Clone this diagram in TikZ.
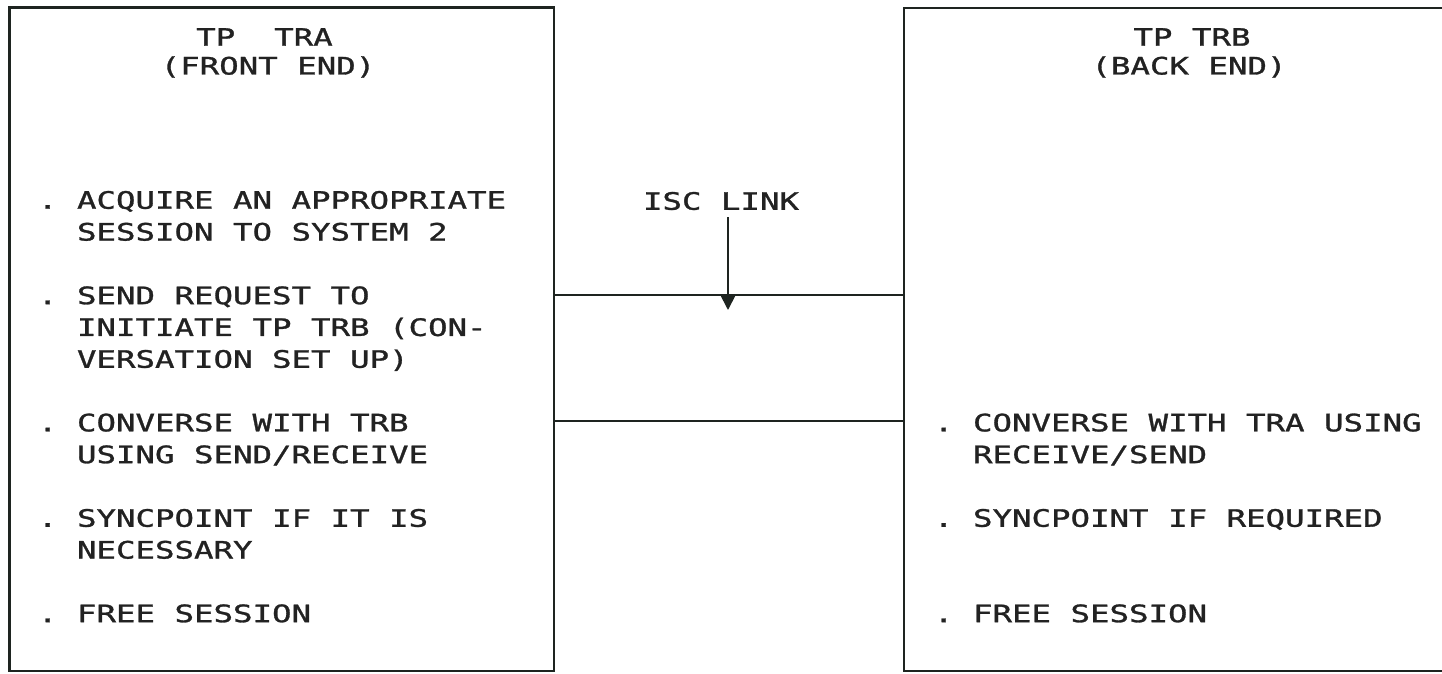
\documentclass[tikz,border=0pt]{standalone}
\usepackage{fontspec}
\usetikzlibrary{arrows.meta}
% line-printer style lettering: a wide monospaced sans of medium weight
\newfontfamily\printfont[FakeStretch=1.35, FakeBold=1.2]{DejaVu Sans Mono}
\definecolor{ink}{HTML}{1E2420}
\definecolor{inktext}{HTML}{222222}

\begin{document}
\begin{tikzpicture}[x=0.5pt,y=-0.5pt,
  frame/.style={draw=ink, line width=1.1pt, inner sep=0pt, outer sep=0pt, anchor=north west},
  txt/.style={text=inktext, font=\printfont\fontsize{12}{14}\selectfont\frenchspacing,
              inner sep=0pt, outer sep=0pt, anchor=base west},
  head/.style={txt, anchor=base},
  link/.style={draw=ink, line width=1.1pt},
  pointer/.style={draw=ink, line width=0.9pt, -{Triangle[width=7.5pt,length=7.5pt]}}]

\clip (0,0) rectangle (1442,674);
\fill[white] (0,0) rectangle (1442,674);

% the two transaction programs
\node[frame, minimum width=272.25pt, minimum height=331.75pt] (tra) at (9.5,7.5) {};
\node[frame, minimum width=273pt, minimum height=331.5pt] (trb) at (904,8) {};

% headings
\node[head] (traname) at (264.5,45.75) {TP\ \ TRA};
\node[head] (trarole) at (268,74.5) {(FRONT END)};
\node[head] (trbname) at (1192,45.75) {TP TRB};
\node[head] (trbrole) at (1189,74.5) {(BACK END)};

% front-end steps
\node[txt] (a1) at (38,208.75) {. ACQUIRE AN APPROPRIATE};
\node[txt] (a1b) at (38,240.55) {\phantom{.}\ SESSION TO SYSTEM 2};
\node[txt] (a2) at (38,304.15) {. SEND REQUEST TO};
\node[txt] (a2b) at (38,335.95) {\phantom{.}\ INITIATE TP TRB (CON-};
\node[txt] (a2c) at (38,367.75) {\phantom{.}\ VERSATION SET UP)};
\node[txt] (a3) at (38,431.35) {. CONVERSE WITH TRB};
\node[txt] (a3b) at (38,463.15) {\phantom{.}\ USING SEND/RECEIVE};
\node[txt] (a4) at (38,526.75) {. SYNCPOINT IF IT IS};
\node[txt] (a4b) at (38,558.55) {\phantom{.}\ NECESSARY};
\node[txt] (a5) at (38,622.15) {. FREE SESSION};

% back-end steps
\node[txt] (b1) at (934,431.35) {. CONVERSE WITH TRA USING};
\node[txt] (b1b) at (934,463.15) {\phantom{.}\ RECEIVE/SEND};
\node[txt] (b2) at (934,526.75) {. SYNCPOINT IF REQUIRED};
\node[txt] (b3) at (934,622.15) {. FREE SESSION};

% the ISC link between the systems
\coordinate (upper) at (729,295);
\coordinate (lower) at (729,421);
\draw[link] (tra.east |- upper) -- (trb.west |- upper);
\draw[link] (tra.east |- lower) -- (trb.west |- lower);

\node[head] (isc) at (721,209.75) {ISC LINK};
\coordinate (tip) at (728,310);
\draw[pointer] ([yshift=-3.5pt]isc.south -| tip) -- (tip);

\end{tikzpicture}
\end{document}
